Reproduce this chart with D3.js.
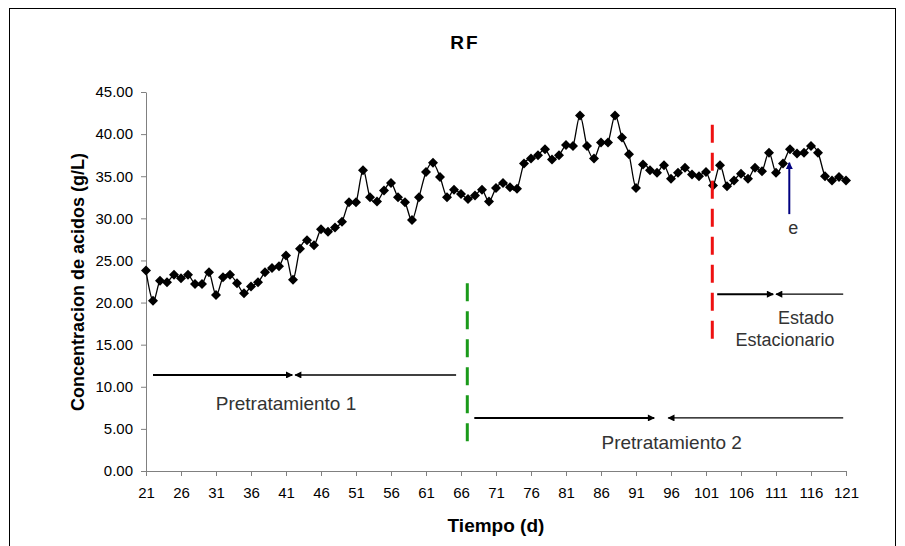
<!DOCTYPE html>
<html>
<head>
<meta charset="utf-8">
<script src="https://cdn.jsdelivr.net/npm/d3@7"></script>
<style>
  body { margin: 0; background: #fff; }
  text { font-family: "Liberation Sans", Arial, sans-serif; }
</style>
</head>
<body>
<script>
// concentracion de acidos (g/L), one reading per day, day 21 .. 121
var days = d3.range(21, 122);
var acidos = [
    23.8, 20.2, 22.6, 22.4, 23.3, 22.9, 23.3, 22.2, 22.2, 23.6,
    20.9, 23.0, 23.3, 22.3, 21.1, 21.9, 22.4, 23.6, 24.1, 24.3,
    25.6, 22.7, 26.4, 27.4, 26.8, 28.7, 28.4, 28.9, 29.6, 31.9,
    31.9, 35.7, 32.5, 32.0, 33.3, 34.2, 32.5, 31.9, 29.8, 32.5,
    35.5, 36.6, 34.9, 32.5, 33.4, 32.9, 32.3, 32.7, 33.4, 32.0,
    33.6, 34.2, 33.7, 33.5, 36.5, 37.1, 37.5, 38.2, 37.0, 37.5,
    38.7, 38.6, 42.2, 38.6, 37.1, 39.0, 39.0, 42.2, 39.6, 37.6,
    33.6, 36.4, 35.7, 35.4, 36.3, 34.7, 35.4, 36.0, 35.2, 35.0,
    35.5, 33.9, 36.3, 33.8, 34.5, 35.3, 34.7, 36.0, 35.6, 37.8,
    35.4, 36.5, 38.2, 37.7, 37.8, 38.6, 37.8, 35.0, 34.5, 34.9,
    34.5
];
var xTicks = [21, 26, 31, 36, 41, 46, 51, 56, 61, 66, 71, 76, 81, 86, 91, 96, 101, 106, 111, 116, 121];
var yTicks = [0, 5, 10, 15, 20, 25, 30, 35, 40, 45];

// annotations (data units)
var phaseArrows = [
    {y: 11.4, from: 22, to: 41.9, back: 65.3, back2: 42.3},
    {y: 6.3, from: 67.9, to: 93.6, back: 120.6, back2: 95.6},
    {y: 21.0, from: 102.6, to: 110.6, back: 120.6, back2: 111.0}
];
var phaseLabels = [
    {x: 41, y: 7.3, size: 19, text: "Pretratamiento 1"},
    {x: 96.1, y: 2.6, size: 19, text: "Pretratamiento 2"},
    {x: 115.3, y: 17.5, size: 18, text: "Estado"},
    {x: 112.3, y: 14.9, size: 18, text: "Estacionario"}
];
var cutLines = [
    {x: 66.9, y0: 2.5, y1: 22.3, color: "#1a9a1a"},
    {x: 101.9, y0: 14.6, y1: 41.1, color: "#ee1111"}
];
var eArrow = {x: 112.9, y0: 30.5, y1: 36.6, label: "e"};

var width = 905, height = 546;
var margin = {left: 146, right: 905 - 846, top: 92, bottom: 546 - 471};

var svg = d3.select("body").append("svg")
    .attr("width", width)
    .attr("height", height);

// outer frame
svg.append("rect")
    .attr("x", 9.5).attr("y", 8.5)
    .attr("width", 886).attr("height", 600)
    .attr("fill", "none")
    .attr("stroke", "#000")
    .attr("stroke-width", 1);

var x = d3.scaleLinear().domain([21, 121]).range([margin.left, width - margin.right]);
var y = d3.scaleLinear().domain([0, 45]).range([height - margin.bottom, margin.top]);

var defs = svg.append("defs");
defs.append("marker")
    .attr("id", "head")
    .attr("viewBox", "0 0 10 10")
    .attr("refX", 9).attr("refY", 5)
    .attr("markerWidth", 9).attr("markerHeight", 7)
    .attr("markerUnits", "userSpaceOnUse")
    .attr("orient", "auto")
    .append("path").attr("d", "M0,0L10,5L0,10Z").attr("fill", "#000");
defs.append("marker")
    .attr("id", "headBlue")
    .attr("viewBox", "0 0 10 10")
    .attr("refX", 9).attr("refY", 5)
    .attr("markerWidth", 10).attr("markerHeight", 7)
    .attr("markerUnits", "userSpaceOnUse")
    .attr("orient", "auto")
    .append("path").attr("d", "M0,0L10,5L0,10Z").attr("fill", "#000080");

// axes
var xAxis = svg.append("g")
    .attr("transform", "translate(0," + y(0) + ")")
    .call(d3.axisBottom(x).tickValues(xTicks).tickSize(5).tickSizeOuter(0).tickPadding(11));
var yAxis = svg.append("g")
    .attr("transform", "translate(" + x(21) + ",0)")
    .call(d3.axisLeft(y).tickValues(yTicks).tickSize(5).tickSizeOuter(0).tickPadding(8)
        .tickFormat(d3.format(".2f")));
[xAxis, yAxis].forEach(function(g) {
    g.select(".domain").attr("stroke", "#808080");
    g.selectAll(".tick line").attr("stroke", "#808080");
    g.selectAll("text").attr("font-size", 15).attr("fill", "#000")
        .attr("font-family", "Liberation Sans, Arial, sans-serif");
});

// titles
svg.append("text")
    .attr("x", 465).attr("y", 49)
    .attr("text-anchor", "middle")
    .attr("font-size", 19).attr("font-weight", "bold")
    .attr("letter-spacing", 2)
    .text("RF");
svg.append("text")
    .attr("x", 496).attr("y", 532)
    .attr("text-anchor", "middle")
    .attr("font-size", 19).attr("font-weight", "bold")
    .text("Tiempo (d)");
svg.append("text")
    .attr("transform", "translate(84,282) rotate(-90)")
    .attr("text-anchor", "middle")
    .attr("font-size", 18).attr("font-weight", "bold")
    .text("Concentracion de acidos (g/L)");

// series
var points = days.map(function(d, i) { return {day: d, v: acidos[i]}; });
var line = d3.line()
    .x(function(d) { return x(d.day); })
    .y(function(d) { return y(d.v); })
    .curve(d3.curveCardinal.tension(0));

svg.append("path")
    .datum(points)
    .attr("d", line)
    .attr("fill", "none")
    .attr("stroke", "#000")
    .attr("stroke-width", 1.3);

svg.append("g").selectAll("path")
    .data(points)
    .enter().append("path")
    .attr("transform", function(d) { return "translate(" + x(d.day) + "," + y(d.v) + ")"; })
    .attr("d", "M0,-5L5,0L0,5L-5,0Z")
    .attr("fill", "#000");

// dashed phase separators
svg.append("g").selectAll("line")
    .data(cutLines)
    .enter().append("line")
    .attr("x1", function(d) { return x(d.x); })
    .attr("x2", function(d) { return x(d.x); })
    .attr("y1", function(d) { return y(d.y1); })
    .attr("y2", function(d) { return y(d.y0); })
    .attr("stroke", function(d) { return d.color; })
    .attr("stroke-width", 3)
    .attr("stroke-dasharray", "18,10");

// double arrows for the phases
var arr = svg.append("g");
phaseArrows.forEach(function(a) {
    arr.append("line")
        .attr("x1", x(a.from)).attr("x2", x(a.to))
        .attr("y1", y(a.y)).attr("y2", y(a.y))
        .attr("stroke", "#000").attr("stroke-width", 2)
        .attr("marker-end", "url(#head)");
    arr.append("line")
        .attr("x1", x(a.back)).attr("x2", x(a.back2))
        .attr("y1", y(a.y)).attr("y2", y(a.y))
        .attr("stroke", "#000").attr("stroke-width", 1.3)
        .attr("marker-end", "url(#head)");
});

svg.append("g").selectAll("text")
    .data(phaseLabels)
    .enter().append("text")
    .attr("x", function(d) { return x(d.x); })
    .attr("y", function(d) { return y(d.y); })
    .attr("text-anchor", "middle")
    .attr("font-size", function(d) { return d.size; })
    .attr("fill", "#333")
    .text(function(d) { return d.text; });

// 'e' arrow
svg.append("line")
    .attr("x1", x(eArrow.x)).attr("x2", x(eArrow.x))
    .attr("y1", y(eArrow.y0)).attr("y2", y(eArrow.y1))
    .attr("stroke", "#000080").attr("stroke-width", 2)
    .attr("marker-end", "url(#headBlue)");
svg.append("text")
    .attr("x", x(eArrow.x) + 4).attr("y", y(eArrow.y0) + 20)
    .attr("text-anchor", "middle")
    .attr("font-size", 18).attr("fill", "#333")
    .text(eArrow.label);
</script>
</body>
</html>
